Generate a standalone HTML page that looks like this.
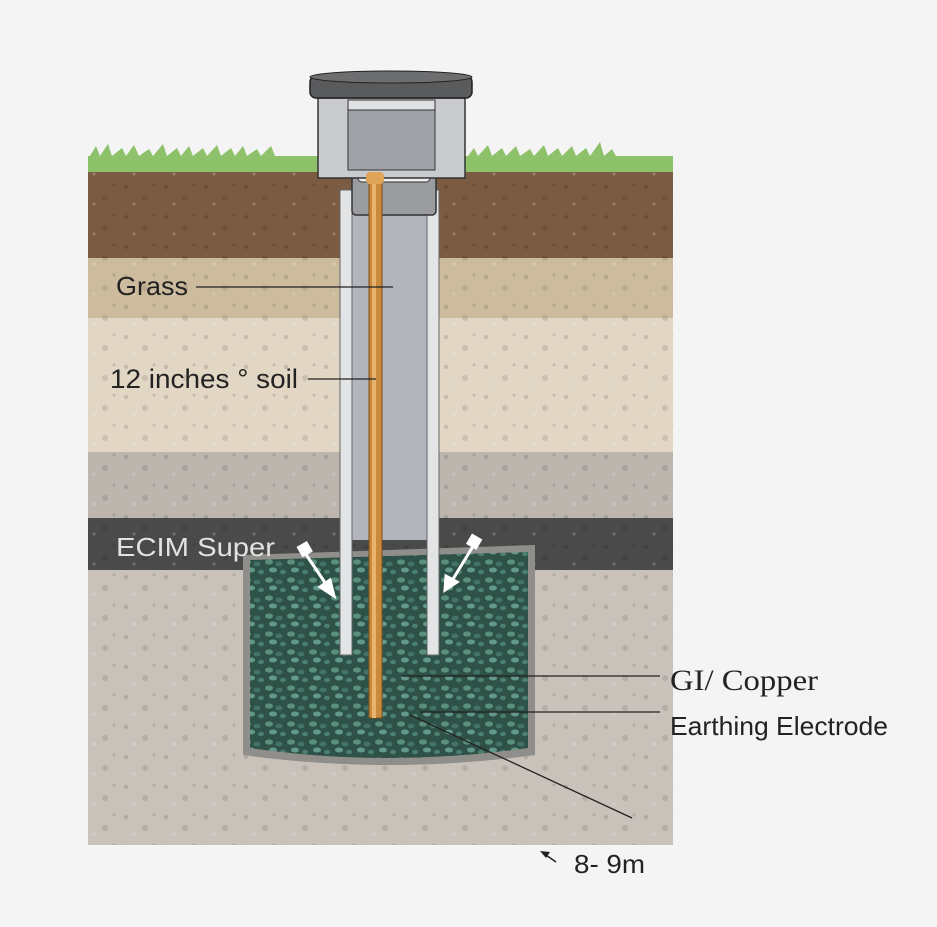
<!DOCTYPE html>
<html><head><style>
body{margin:0;background:#f4f4f4;}
svg{display:block}
text{font-family:"Liberation Sans",sans-serif;}
</style></head><body>
<svg width="937" height="927" viewBox="0 0 937 927" xmlns="http://www.w3.org/2000/svg">
<defs>
<pattern id="spk" width="40" height="30" patternUnits="userSpaceOnUse">
<circle cx="6" cy="7" r="2.2" fill="#000" opacity=".12"/><circle cx="25" cy="18" r="3" fill="#000" opacity=".1"/><circle cx="34" cy="5" r="1.5" fill="#000" opacity=".12"/><circle cx="14" cy="24" r="1.6" fill="#fff" opacity=".2"/>
</pattern>
<pattern id="grv" width="22" height="18" patternUnits="userSpaceOnUse">
<rect width="22" height="18" fill="#2f5248"/>
<ellipse cx="5" cy="4" rx="4" ry="2.6" fill="#5a8f7e"/><ellipse cx="15" cy="6" rx="3.5" ry="2.4" fill="#437366"/><ellipse cx="9" cy="12" rx="4" ry="2.5" fill="#62998a"/><ellipse cx="19" cy="14" rx="3" ry="2.2" fill="#4b7f70"/>
</pattern>
</defs>
<rect x="88" y="170" width="585" height="88" fill="#7b5b42"/>
<rect x="88" y="258" width="585" height="60" fill="#cdbb9e"/>
<rect x="88" y="318" width="585" height="134" fill="#e2d6c4"/>
<rect x="88" y="452" width="585" height="66" fill="#bcb6ae"/>
<rect x="88" y="518" width="585" height="52" fill="#4a4a4a"/>
<rect x="88" y="570" width="585" height="275" fill="#c8c2ba"/>
<rect x="88" y="170" width="585" height="675" fill="url(#spk)"/>
<rect x="88" y="156" width="585" height="16" fill="#8dc26a"/>
<path d="M90 156 l6 -10 l4 10 l8 -12 l4 12 l10 -8 l4 8 l8 -11 l5 11 l10 -7 l4 7 l10 -12 l4 12 l10 -8 l4 8 l8 -10 l4 10 l10 -8 l4 8 l10 -11 l4 11 l10 -8 l4 8 l8 -10 l4 10 l10 -7 l4 7 l10 -10 l4 10z" fill="#8dc26a"/>
<path d="M468 156 l6 -8 l4 8 l10 -11 l4 11 l10 -8 l4 8 l10 -10 l4 10 l10 -7 l4 7 l10 -11 l4 11 l10 -8 l4 8 l10 -10 l4 10 l10 -8 l4 8 l10 -14 l4 14 l8 -7 l4 7z" fill="#8dc26a"/>
<path d="M243 555 L535 545 L535 755 Q389 775 243 755Z" fill="#8f8e8a"/>
<path d="M250 560 L528 552 L528 748 Q389 768 250 748Z" fill="url(#grv)"/>
<rect x="340" y="190" width="98" height="350" fill="#c4c6ca"/>
<rect x="352" y="190" width="76" height="350" fill="#b2b6bc"/>
<rect x="340" y="190" width="12" height="465" fill="#e3e4e6" stroke="#666" stroke-width="1"/>
<rect x="427" y="190" width="12" height="465" fill="#e3e4e6" stroke="#666" stroke-width="1"/>
<rect x="352" y="170" width="84" height="45" rx="4" fill="#9a9ca0" stroke="#333" stroke-width="1.5"/>
<rect x="358" y="174" width="72" height="8" rx="4" fill="#eee" stroke="#333"/>
<rect x="318" y="98" width="147" height="80" fill="#c9cbcf" stroke="#333" stroke-width="1.5"/>
<rect x="348" y="100" width="87" height="70" fill="#9fa2a7" stroke="#333"/>
<rect x="348" y="100" width="87" height="10" fill="#e0e1e3" stroke="#333"/>
<rect x="310" y="76" width="162" height="22" rx="6" fill="#5a5b5d" stroke="#222" stroke-width="1.5"/>
<ellipse cx="391" cy="77" rx="81" ry="6" fill="#6d6e70" stroke="#222"/>
<rect x="369" y="178" width="13" height="540" fill="#c98a3e" stroke="#7a4d1c" stroke-width="1"/>
<rect x="372" y="178" width="4" height="540" fill="#e9b36e"/>
<rect x="366" y="172" width="18" height="12" rx="4" fill="#e0a456"/>
<g stroke="#fff" stroke-width="3" fill="#fff">
<line x1="305" y1="553" x2="330" y2="590"/><polygon points="334,596 320,587 330,580"/><rect x="300" y="545" width="9" height="9" transform="rotate(-30 304 549)"/>
<line x1="475" y1="543" x2="450" y2="584"/><polygon points="445,590 446,576 457,582"/><rect x="470" y="537" width="9" height="9" transform="rotate(30 474 541)"/>
</g>
<text x="116" y="295" font-size="26" fill="#222" textLength="72" lengthAdjust="spacingAndGlyphs">Grass</text>
<line x1="196" y1="287" x2="393" y2="287" stroke="#222" stroke-width="1.3"/>
<text x="110" y="388" font-size="27" fill="#222" textLength="188" lengthAdjust="spacingAndGlyphs">12 inches ° soil</text>
<line x1="308" y1="379" x2="376" y2="379" stroke="#222" stroke-width="1.3"/>
<text x="116" y="556" font-size="26" fill="#e2e2e2" textLength="159" lengthAdjust="spacingAndGlyphs">ECIM Super</text>
<line x1="402" y1="676" x2="660" y2="676" stroke="#222" stroke-width="1.2"/>
<text x="670" y="690" font-size="30" fill="#222" style="font-family:'Liberation Serif',serif" textLength="148" lengthAdjust="spacingAndGlyphs">GI/ Copper</text>
<line x1="420" y1="712" x2="660" y2="712" stroke="#222" stroke-width="1.2"/>
<text x="670" y="735" font-size="26" fill="#222" textLength="218" lengthAdjust="spacingAndGlyphs">Earthing Electrode</text>
<line x1="410" y1="715" x2="632" y2="818" stroke="#222" stroke-width="1.3"/>
<path d="M543 853 L556 862" stroke="#222" stroke-width="1.5"/><polygon points="540,851 550,852 546,858" fill="#222"/>
<text x="574" y="873" font-size="26" fill="#222" textLength="71" lengthAdjust="spacingAndGlyphs">8- 9m</text>
</svg>
</body></html>
